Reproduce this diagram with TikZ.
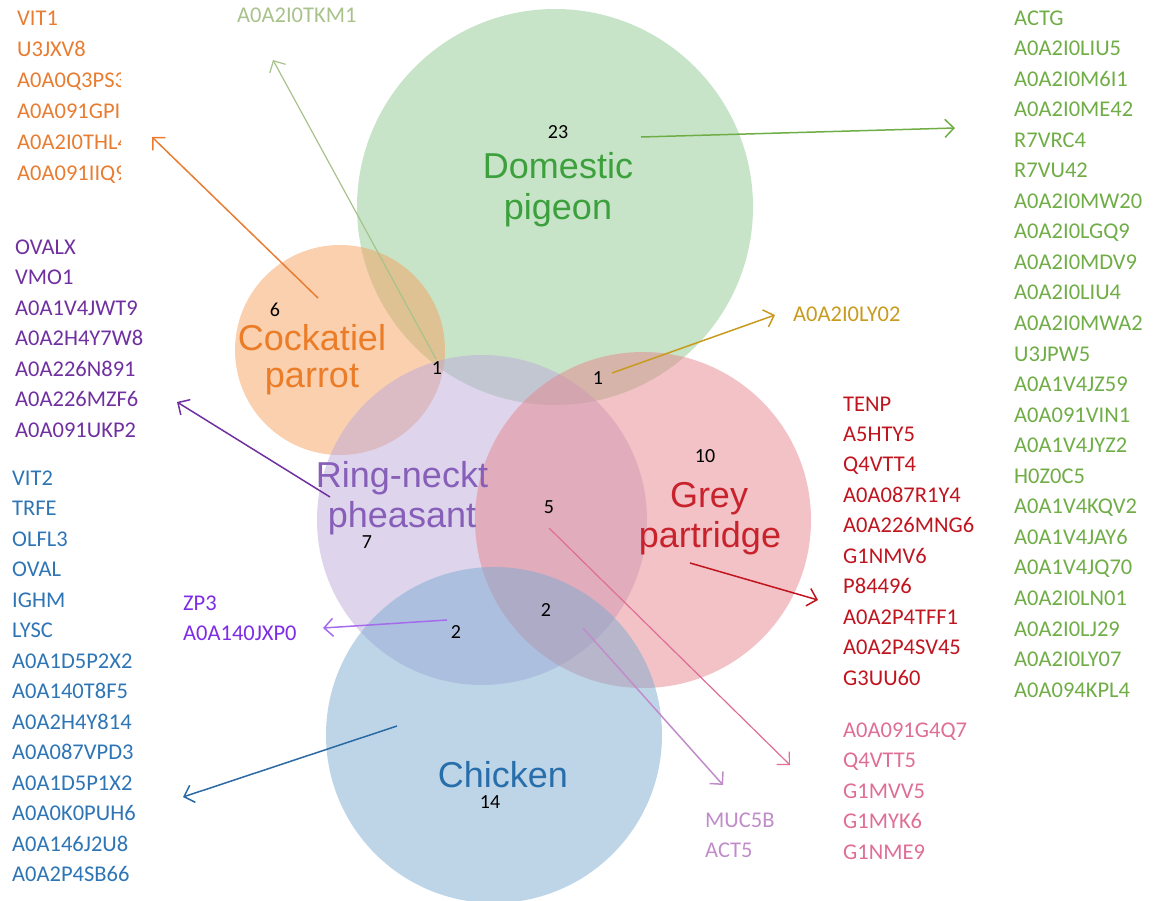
\documentclass[tikz,border=0pt]{standalone}
\usepackage{fontspec}
\setmainfont{Carlito}
\newfontfamily\arialf{Liberation Sans}
\usetikzlibrary{arrows.meta}
\definecolor{cGreen}{RGB}{143,201,145}
\definecolor{cOrange}{RGB}{245,161,95}
\definecolor{cPurple}{RGB}{189,169,217}
\definecolor{cRed}{RGB}{229,133,141}
\definecolor{cBlue}{RGB}{125,171,209}
\definecolor{tGreen}{RGB}{60,160,60}
\definecolor{tOrange}{RGB}{235,125,40}
\definecolor{tPurple}{RGB}{135,95,185}
\definecolor{tRed}{RGB}{200,35,45}
\definecolor{tBlue}{RGB}{40,110,170}
\definecolor{lOrange}{RGB}{232,125,50}
\definecolor{lPurple}{RGB}{112,48,160}
\definecolor{lBlue}{RGB}{46,117,182}
\definecolor{lViolet}{RGB}{125,45,230}
\definecolor{lGreen}{RGB}{112,173,71}
\definecolor{lRed}{RGB}{192,20,30}
\definecolor{lPink}{RGB}{222,110,150}
\definecolor{lLilac}{RGB}{192,140,202}
\definecolor{lOlive}{RGB}{168,194,140}
\definecolor{lGold}{RGB}{200,155,30}
\tikzset{
  venn/.style={fill opacity=0.5, draw=none},
  biglabel/.style={anchor=base, inner sep=0pt, font=\arialf\fontsize{36}{40}\selectfont},
  listitem/.style={anchor=base west, inner sep=0pt, font=\fontsize{22.5}{26}\selectfont},
  count/.style={inner sep=0pt, font=\fontsize{20}{22}\selectfont, text=black},
  pointer/.style={line width=1.5pt, -{Straight Barb[length=9pt,width=18pt]}}
}
\begin{document}
\begin{tikzpicture}[x=1pt,y=-1pt]
\path[use as bounding box] (0,0) rectangle (1162,900);
% circles
\fill[venn, cGreen] (555,207) circle (198);
\fill[venn, cOrange] (340,350) circle (105);
\fill[venn, cPurple] (482,520) circle (165);
\fill[venn, cRed] (643,520) circle (168);
\fill[venn, cBlue] (494,735) circle (168);
% big labels
\node[biglabel, text=tGreen] (dp1) at (558,178) {Domestic};
\node[biglabel, text=tGreen] (dp2) at (558,219) {pigeon};
\node[biglabel, text=tOrange] (cp1) at (312,350) {Cockatiel};
\node[biglabel, text=tOrange] (cp2) at (312,387) {parrot};
\node[biglabel, text=tPurple] (rp1) at (402,487) {Ring-neckt};
\node[biglabel, text=tPurple] (rp2) at (402,527) {pheasant};
\node[biglabel, text=tRed] (gp1) at (709,507) {Grey};
\node[biglabel, text=tRed] (gp2) at (710,547) {partridge};
\node[biglabel, text=tBlue] (ch1) at (503,787) {Chicken};
% counts
\node[count] (n23) at (558,132) {23};
\node[count] (n6) at (275,310) {6};
\node[count] (n1a) at (437,368) {1};
\node[count] (n1b) at (598,378) {1};
\node[count] (n10) at (705,456) {10};
\node[count] (n5) at (549,507) {5};
\node[count] (n7) at (367,542) {7};
\node[count] (n2a) at (456,632) {2};
\node[count] (n2b) at (546,610) {2};
\node[count] (n14) at (490,802) {14};
% lists
\begin{scope}
\clip (0,0) rectangle (120,200);
\foreach \t [count=\i] in {VIT1,U3JXV8,A0A0Q3PS3,A0A091GPI8,A0A2I0THL4,A0A091IIQ9}
  \node[listitem, text=lOrange] (or\i) at (17,{25+31*(\i-1)}) {\t};
\end{scope}
\foreach \t [count=\i] in {OVALX,VMO1,A0A1V4JWT9,A0A2H4Y7W8,A0A226N891,A0A226MZF6,A0A091UKP2}
  \node[listitem, text=lPurple] (pu\i) at (15,{254+30.5*(\i-1)}) {\t};
\foreach \t [count=\i] in {VIT2,TRFE,OLFL3,OVAL,IGHM,LYSC,A0A1D5P2X2,A0A140T8F5,A0A2H4Y814,A0A087VPD3,A0A1D5P1X2,A0A0K0PUH6,A0A146J2U8,A0A2P4SB66}
  \node[listitem, text=lBlue] (bl\i) at (12,{485+30.5*(\i-1)}) {\t};
\foreach \t [count=\i] in {ZP3,A0A140JXP0}
  \node[listitem, text=lViolet] (vi\i) at (183,{610+30.5*(\i-1)}) {\t};
\foreach \t [count=\i] in {ACTG,A0A2I0LIU5,A0A2I0M6I1,A0A2I0ME42,R7VRC4,R7VU42,A0A2I0MW20,A0A2I0LGQ9,A0A2I0MDV9,A0A2I0LIU4,A0A2I0MWA2,U3JPW5,A0A1V4JZ59,A0A091VIN1,A0A1V4JYZ2,H0Z0C5,A0A1V4KQV2,A0A1V4JAY6,A0A1V4JQ70,A0A2I0LN01,A0A2I0LJ29,A0A2I0LY07,A0A094KPL4}
  \node[listitem, text=lGreen] (gr\i) at (1014,{25+30.55*(\i-1)}) {\t};
\foreach \t [count=\i] in {TENP,A5HTY5,Q4VTT4,A0A087R1Y4,A0A226MNG6,G1NMV6,P84496,A0A2P4TFF1,A0A2P4SV45,G3UU60}
  \node[listitem, text=lRed] (re\i) at (843,{411+30.45*(\i-1)}) {\t};
\foreach \t [count=\i] in {A0A091G4Q7,Q4VTT5,G1MVV5,G1MYK6,G1NME9}
  \node[listitem, text=lPink] (pk\i) at (843,{737+30.5*(\i-1)}) {\t};
\foreach \t [count=\i] in {MUC5B,ACT5}
  \node[listitem, text=lLilac] (li\i) at (705,{827+30.5*(\i-1)}) {\t};
\node[listitem, text=lOlive] (tkm) at (237,22) {A0A2I0TKM1};
\node[listitem, text=lGold] (ly02) at (793,321) {A0A2I0LY02};
% arrow coordinates
\coordinate (aOs) at (318,298); \coordinate (aOe) at (152,137);
\coordinate (aLs) at (436,359); \coordinate (aLe) at (273,60);
\coordinate (aGs) at (641,137); \coordinate (aGe) at (955,128);
\coordinate (aYs) at (612,373); \coordinate (aYe) at (775,315);
\coordinate (aPs) at (330,497); \coordinate (aPe) at (177,402);
\coordinate (aVs) at (447,620); \coordinate (aVe) at (323,628);
\coordinate (aRs) at (690,563); \coordinate (aRe) at (818,600);
\coordinate (aKs) at (549,528); \coordinate (aKe) at (790,765);
\coordinate (aIs) at (583,628); \coordinate (aIe) at (723,785);
\coordinate (aBs) at (397,726); \coordinate (aBe) at (183,797);
% arrows
\draw[pointer, lOrange] (aOs) -- (aOe);
\draw[pointer, lOlive, line width=1.2pt] (aLs) -- (aLe);
\draw[pointer, lGreen] (aGs) -- (aGe);
\draw[pointer, lGold] (aYs) -- (aYe);
\draw[pointer, lPurple] (aPs) -- (aPe);
\draw[pointer, lViolet!70] (aVs) -- (aVe);
\draw[pointer, lRed] (aRs) -- (aRe);
\draw[pointer, lPink, line width=1.2pt] (aKs) -- (aKe);
\draw[pointer, lLilac] (aIs) -- (aIe);
\draw[pointer, lBlue!90!black] (aBs) -- (aBe);
\end{tikzpicture}
\end{document}
